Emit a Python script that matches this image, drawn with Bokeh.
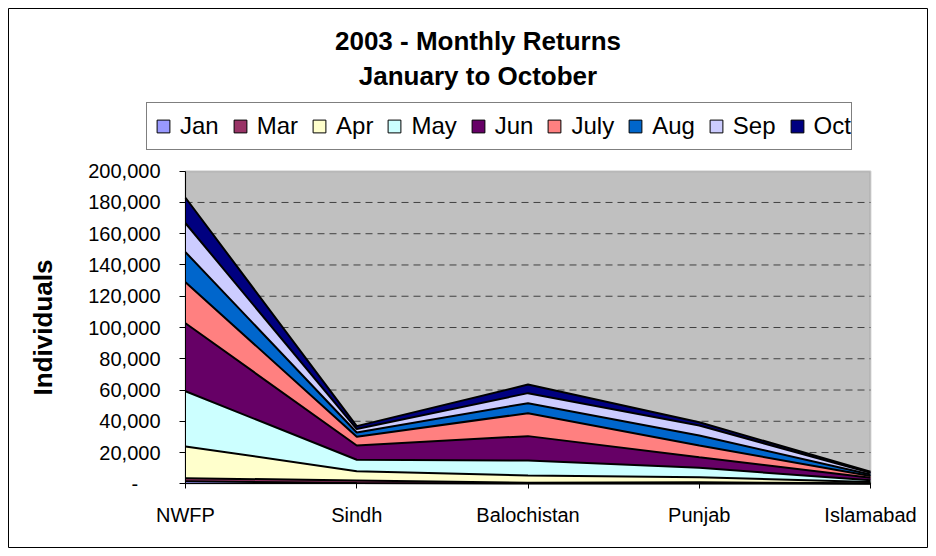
from bokeh.plotting import figure
from bokeh.models import (ColumnDataSource, Range1d, FixedTicker, NumeralTickFormatter,
                          Legend, LegendItem, Label, BoxAnnotation)
from bokeh.transform import stack
from bokeh.embed import file_html
from bokeh.resources import INLINE

# ---- data -------------------------------------------------------------
regions = ["NWFP", "Sindh", "Balochistan", "Punjab", "Islamabad"]
months = ["Jan", "Mar", "Apr", "May", "Jun", "July", "Aug", "Sep", "Oct"]
jan = [1700, 500, 200, 300, 100]
mar = [1900, 1600, 400, 700, 200]
apr = [20300, 6000, 4700, 3200, 800]
may = [35300, 7300, 9600, 6000, 1200]
jun = [43500, 9100, 15600, 6800, 1500]
july = [26300, 5600, 14700, 7500, 1200]
aug = [19200, 2700, 6400, 6400, 1000]
sep = [18500, 2200, 6400, 6400, 1000]
oct_ = [16300, 1900, 5500, 2100, 700]
y_ticks = [0, 20000, 40000, 60000, 80000, 100000, 120000, 140000, 160000, 180000, 200000]
title_1 = "2003 - Monthly Returns"
title_2 = "January to October"
y_title = "Individuals"

colors = ["#9999FF", "#993366", "#FFFFCC", "#CCFFFF", "#660066",
          "#FF8080", "#0066CC", "#CCCCFF", "#000080"]

FONT = "Liberation Sans"

# ---- layout geometry (canvas pixels) ----------------------------------
W, H = 920, 540
AREA_L, AREA_R = 177, 862          # plot-area edges from canvas left
AREA_T, AREA_B = 162.7, 475.3      # plot-area edges from canvas top
n = len(regions)
y_lo, y_hi = y_ticks[0], y_ticks[-1]
ppx = (AREA_R - AREA_L) / (n - 1)
ppy = (AREA_B - AREA_T) / (y_hi - y_lo)
x_start = 0 - AREA_L / ppx
x_end = (n - 1) + (W - AREA_R) / ppx
y_end = y_hi + AREA_T / ppy
y_start = y_lo - (H - AREA_B) / ppy

xs = list(range(n))
src = ColumnDataSource(dict(x=xs, Jan=jan, Mar=mar, Apr=apr, May=may, Jun=jun,
                            July=july, Aug=aug, Sep=sep, Oct=oct_))

p = figure(width=W, height=H, x_range=Range1d(x_start, x_end),
           y_range=Range1d(y_start, y_end),
           output_backend="svg", toolbar_location=None, title_location=None,
           min_border=0, min_border_left=0, min_border_right=0,
           min_border_top=0, min_border_bottom=0)
p.styles = {"margin": "8px"}
p.background_fill_color = "white"
p.border_fill_color = "white"
p.outline_line_color = "black"
p.outline_line_width = 1

# gray plot area
p.add_layout(BoxAnnotation(left=xs[0], right=xs[-1], bottom=y_lo, top=y_hi,
                           fill_color="#C0C0C0", fill_alpha=1,
                           line_color="#808080", line_width=2, level="underlay"))

# dashed gridlines
grid_vals = y_ticks[1:-1]
p.segment(x0=[xs[0]] * len(grid_vals), x1=[xs[-1]] * len(grid_vals),
          y0=grid_vals, y1=grid_vals, line_color="#404040", line_dash="7 5",
          line_width=1)

# stacked areas with black boundary lines
p.varea_stack(stackers=months, x="x", color=colors, source=src)
for i in range(len(months)):
    p.line(x="x", y=stack(*months[:i + 1]), source=src,
           line_color="black", line_width=2)

p.xgrid.visible = False
p.ygrid.visible = False

# axes, fixed at the plot-area edges
p.xaxis.fixed_location = y_lo
p.xaxis.bounds = (xs[0], xs[-1])
p.xaxis.ticker = FixedTicker(ticks=xs)
p.xaxis.major_label_overrides = {i: r for i, r in enumerate(regions)}
p.xaxis.major_tick_out = 5
p.xaxis.major_tick_in = 0
p.xaxis.minor_tick_line_color = None
p.xaxis.axis_line_color = "black"
p.xaxis.major_label_text_font = FONT
p.xaxis.major_label_text_font_size = "20px"
p.xaxis.major_label_text_color = "black"
p.xaxis.major_label_standoff = 15

p.yaxis.fixed_location = xs[0]
p.yaxis.bounds = (y_lo, y_hi)
p.yaxis.ticker = FixedTicker(ticks=y_ticks)
p.yaxis.formatter = NumeralTickFormatter(format="0,0")
p.yaxis.major_label_overrides = {0: "-\u00a0\u00a0\u00a0\u00a0"}
p.yaxis.major_tick_out = 6
p.yaxis.major_tick_in = 0
p.yaxis.minor_tick_line_color = None
p.yaxis.axis_line_color = "black"
p.yaxis.major_label_text_font = FONT
p.yaxis.major_label_text_font_size = "20px"
p.yaxis.major_label_text_color = "black"
p.yaxis.major_label_standoff = 19
p.yaxis.axis_label = y_title
p.yaxis.axis_label_text_font = FONT
p.yaxis.axis_label_text_font_size = "26px"
p.yaxis.axis_label_text_font_style = "bold"
p.yaxis.axis_label_text_color = "black"
p.yaxis.axis_label_standoff = 27

# legend (proxy markers with no visible position)
nan = float("nan")
items = []
for m, c in zip(months, colors):
    r = p.scatter(x=[nan], y=[nan], marker="square", fill_color=c, line_color="black")
    items.append(LegendItem(label=m, renderers=[r]))
legend = Legend(items=items, orientation="horizontal", location=(138, 398),
                glyph_width=32, glyph_height=46, label_standoff=1, spacing=5,
                padding=0, margin=0, border_line_color="black", border_line_width=1,
                background_fill_color="white", background_fill_alpha=1,
                label_text_font=FONT, label_text_font_size="24px",
                label_text_color="black")
p.add_layout(legend, "center")

# titles
for txt, yy in [(title_1, 507.5), (title_2, 472.5)]:
    p.add_layout(Label(x=469.5, y=yy, x_units="screen", y_units="screen", text=txt,
                       text_align="center", text_baseline="alphabetic",
                       text_font=FONT, text_font_size="26px", text_font_style="bold",
                       text_color="black"))

open("out.html", "w").write(file_html(p, INLINE))
